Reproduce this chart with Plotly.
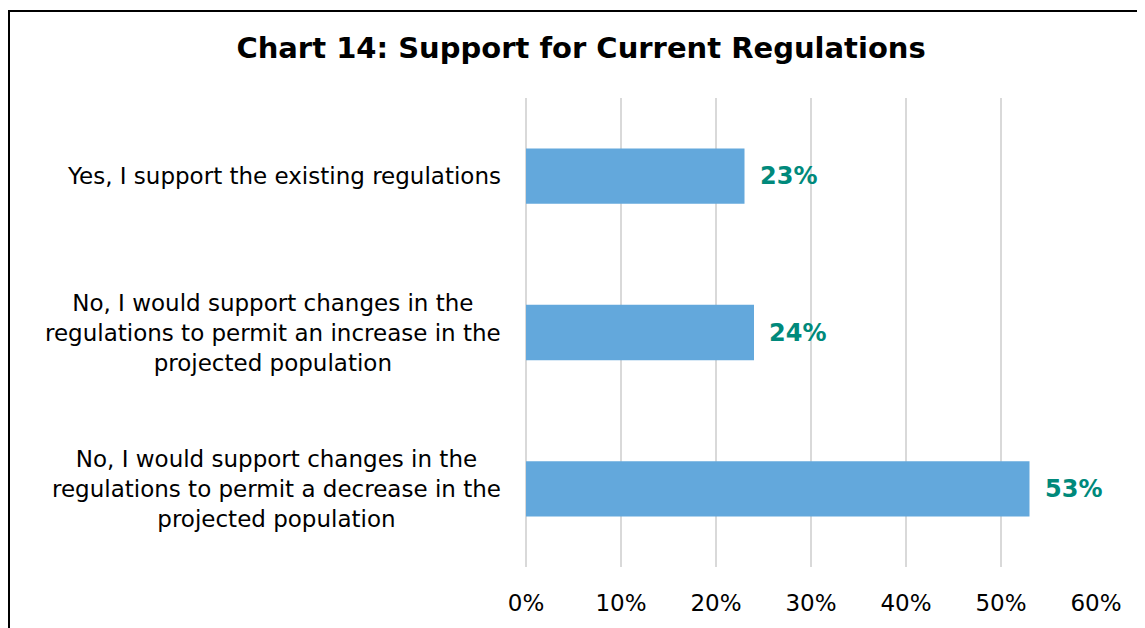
import plotly.graph_objects as go

categories = [
    "No, I would support changes in the<br>regulations to permit a decrease in the<br>projected population",
    "No, I would support changes in the<br>regulations to permit an increase in the<br>projected population",
    "Yes, I support the existing regulations",
]
values = [53, 24, 23]
tick_vals = [0, 10, 20, 30, 40, 50, 60]
tick_text = ["0%", "10%", "20%", "30%", "40%", "50%", "60%"]
title_text = "Chart 14: Support for Current Regulations"

FONT = "DejaVu Sans, Verdana, sans-serif"

fig = go.Figure()
fig.add_trace(go.Bar(
    x=values, y=categories, orientation="h",
    marker=dict(color="#63A8DC", line=dict(width=0)),
    hoverinfo="skip",
))

for v, c in zip(values, categories):
    fig.add_annotation(
        x=v, y=c, text=f"<b>{v}%</b>", showarrow=False,
        xanchor="left", xshift=13, yshift=0,
        font=dict(family=FONT, size=24, color="#00897B"),
    )

# category labels, centre-aligned like the original
for c in categories:
    fig.add_annotation(
        xref="paper", x=-23 / 570, y=c, yref="y", text=c, showarrow=False,
        xanchor="right", align="center",
        font=dict(family=FONT, size=23, color="black"),
    )

# page body has an 8px margin, so the figure is 8px smaller than the window
fig.update_layout(
    width=1137, height=620,
    margin=dict(l=518, r=49, t=90, b=56),
    paper_bgcolor="white", plot_bgcolor="white",
    bargap=0.646,
    showlegend=False,
    title=dict(
        text=f"<b>{title_text}</b>",
        x=0.504, xanchor="center", y=0.935, yanchor="middle",
        font=dict(family=FONT, size=29, color="black"),
    ),
    xaxis=dict(
        range=[0, 60], tickvals=tick_vals, ticktext=tick_text,
        showgrid=True, gridcolor="#D9D9D9", gridwidth=2,
        zeroline=True, zerolinecolor="#D9D9D9", zerolinewidth=2,
        showline=False, ticks="",
        tickfont=dict(family=FONT, size=23, color="black"),
        ticklabelstandoff=20,
        fixedrange=True,
    ),
    yaxis=dict(
        showgrid=False, zeroline=False, showline=False, ticks="",
        showticklabels=False,
        fixedrange=True,
    ),
    shapes=[
        dict(type="rect", xref="paper", yref="paper",
             x0=-517 / 570, x1=1.12, y0=-0.3, y1=(572 - 10) / 474,
             line=dict(color="black", width=2), fillcolor="rgba(0,0,0,0)",
             layer="below"),
    ],
)

fig.write_html("out.html")
